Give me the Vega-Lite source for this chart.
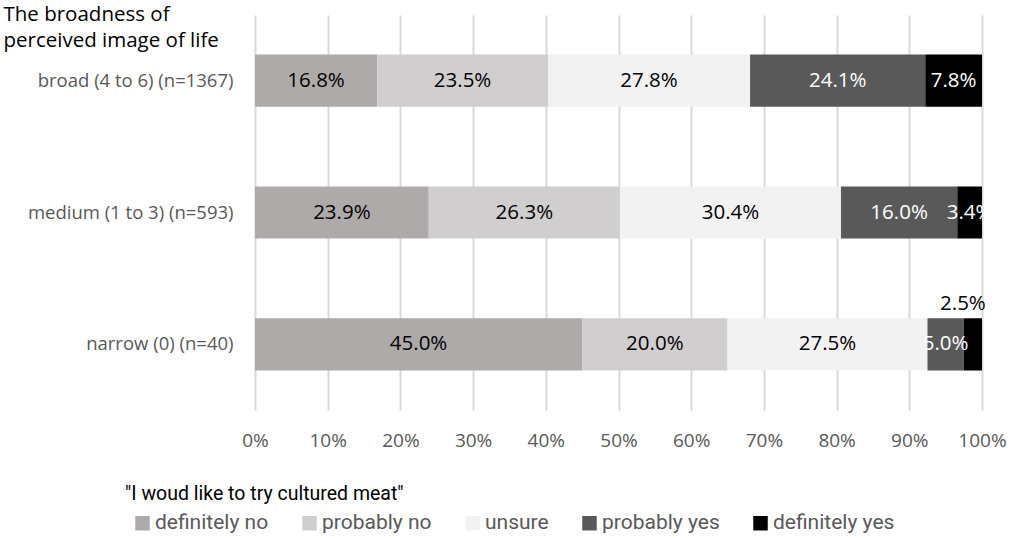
{
  "$schema": "https://vega.github.io/schema/vega-lite/v6.json",
  "width": 727,
  "height": 395,
  "autosize": {"type": "none"},
  "padding": {"left": 255, "top": 15, "right": 31, "bottom": 128},
  "background": "white",
  "config": {"view": {"stroke": null}, "font": "Open Sans"},
  "data": {
    "values": [
      {"group": "broad (4 to 6) (n=1367)", "resp": "definitely no", "k": 1, "pct": 0.168},
      {"group": "broad (4 to 6) (n=1367)", "resp": "probably no", "k": 2, "pct": 0.235},
      {"group": "broad (4 to 6) (n=1367)", "resp": "unsure", "k": 3, "pct": 0.278},
      {"group": "broad (4 to 6) (n=1367)", "resp": "probably yes", "k": 4, "pct": 0.241},
      {"group": "broad (4 to 6) (n=1367)", "resp": "definitely yes", "k": 5, "pct": 0.078},
      {"group": "medium (1 to 3) (n=593)", "resp": "definitely no", "k": 1, "pct": 0.239},
      {"group": "medium (1 to 3) (n=593)", "resp": "probably no", "k": 2, "pct": 0.263},
      {"group": "medium (1 to 3) (n=593)", "resp": "unsure", "k": 3, "pct": 0.304},
      {"group": "medium (1 to 3) (n=593)", "resp": "probably yes", "k": 4, "pct": 0.160},
      {"group": "medium (1 to 3) (n=593)", "resp": "definitely yes", "k": 5, "pct": 0.034},
      {"group": "narrow (0) (n=40)", "resp": "definitely no", "k": 1, "pct": 0.450},
      {"group": "narrow (0) (n=40)", "resp": "probably no", "k": 2, "pct": 0.200},
      {"group": "narrow (0) (n=40)", "resp": "unsure", "k": 3, "pct": 0.275},
      {"group": "narrow (0) (n=40)", "resp": "probably yes", "k": 4, "pct": 0.050},
      {"group": "narrow (0) (n=40)", "resp": "definitely yes", "k": 5, "pct": 0.025}
    ]
  },
  "transform": [
    {"stack": "pct", "groupby": ["group"], "sort": [{"field": "k", "order": "ascending"}], "as": ["x0", "x1"]},
    {"calculate": "(datum.x0 + datum.x1) / 2", "as": "xm"}
  ],
  "encoding": {
    "y": {
      "field": "group",
      "type": "nominal",
      "sort": ["broad (4 to 6) (n=1367)", "medium (1 to 3) (n=593)", "narrow (0) (n=40)"],
      "scale": {"paddingInner": 0.605, "paddingOuter": 0.3},
      "axis": {
        "title": ["The broadness of", "perceived image of life"],
        "titleAngle": 0,
        "titleAlign": "left",
        "titleBaseline": "top",
        "titleX": -252,
        "titleY": -11,
        "titleFontSize": 20.5,
        "titleFontWeight": "normal",
        "titleColor": "black",
        "titleLineHeight": 26,
        "titleLimit": 400,
        "labelFontSize": 18.5,
        "labelColor": "#595959",
        "labelPadding": 22,
        "labelLimit": 300,
        "domain": false,
        "ticks": false,
        "grid": false
      }
    }
  },
  "layer": [
    {
      "mark": {"type": "bar"},
      "encoding": {
        "x": {
          "field": "x0",
          "type": "quantitative",
          "scale": {"domain": [0, 1], "nice": false},
          "axis": {
            "format": ".0%",
            "values": [0, 0.1, 0.2, 0.3, 0.4, 0.5, 0.6, 0.7, 0.8, 0.9, 1],
            "title": null,
            "domain": false,
            "ticks": false,
            "grid": true,
            "gridColor": "#d9d9d9",
            "gridWidth": 2,
            "labelFontSize": 19,
            "labelColor": "#595959",
            "labelPadding": 21,
            "labelOverlap": false,
            "labelBound": false,
            "labelFlush": false
          }
        },
        "x2": {"field": "x1"},
        "color": {
          "field": "resp",
          "type": "nominal",
          "scale": {
            "domain": ["definitely no", "probably no", "unsure", "probably yes", "definitely yes"],
            "range": ["#aeaaaa", "#d0cece", "#f2f2f2", "#595959", "#000000"]
          },
          "legend": {
            "orient": "none",
            "legendX": -130,
            "legendY": 470,
            "direction": "horizontal",
            "columns": 5,
            "title": "\"I woud like to try cultured meat\"",
            "titleFont": "Roboto",
            "titleFontSize": 19.5,
            "titleFontWeight": "normal",
            "titleColor": "black",
            "titlePadding": 8,
            "titleLimit": 600,
            "labelFont": "Roboto",
            "labelFontSize": 21,
            "labelColor": "#595959",
            "labelOffset": 2,
            "labelLimit": 300,
            "symbolType": "square",
            "symbolSize": 210,
            "symbolOffset": 7,
            "symbolStrokeWidth": 0,
            "symbolOpacity": 1,
            "columnPadding": 23
          }
        }
      }
    },
    {
      "transform": [{"filter": "!(datum.k == 5 && datum.group == 'narrow (0) (n=40)')"}],
      "mark": {"type": "text", "fontSize": 20.5, "baseline": "middle", "align": "center"},
      "encoding": {
        "x": {"field": "xm", "type": "quantitative"},
        "text": {"field": "pct", "type": "quantitative", "format": ".1%"},
        "color": {"condition": {"test": "datum.k >= 4", "value": "white"}, "value": "black"}
      }
    },
    {
      "transform": [{"filter": "datum.k == 5 && datum.group == 'narrow (0) (n=40)'"}],
      "mark": {"type": "text", "fontSize": 20.5, "baseline": "middle", "align": "center", "dy": -40, "dx": -10, "color": "black"},
      "encoding": {
        "x": {"field": "xm", "type": "quantitative"},
        "text": {"field": "pct", "type": "quantitative", "format": ".1%"}
      }
    }
  ]
}
